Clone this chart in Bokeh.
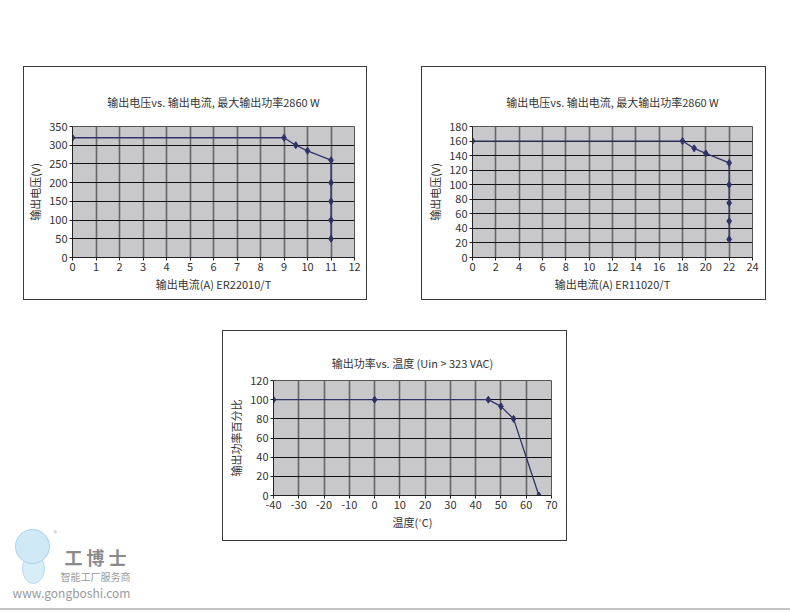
from bokeh.plotting import figure
from bokeh.models import Range1d, FixedTicker, Spacer, ColumnDataSource
from bokeh.layouts import row, column
from bokeh.embed import file_html
from bokeh.resources import INLINE
from bokeh.core.properties import value

FONT = "Noto Sans CJK SC"

# ---- data ----
c1_title = "输出电压vs. 输出电流, 最大输出功率2860 W"
c1_xlabel = "输出电流(A) ER22010/T"
c1_ylabel = "输出电压(V)"
c1_current = [0, 9, 9.5, 10, 11, 11, 11, 11, 11]
c1_voltage = [320, 320, 300, 285, 260, 200, 150, 100, 50]
c1_xticks = list(range(0, 13, 1))
c1_yticks = list(range(0, 351, 50))

c2_title = "输出电压vs. 输出电流, 最大输出功率2860 W"
c2_xlabel = "输出电流(A) ER11020/T"
c2_ylabel = "输出电压(V)"
c2_current = [0, 18, 19, 20, 22, 22, 22, 22, 22]
c2_voltage = [160, 160, 150, 143, 130, 100, 75, 50, 25]
c2_xticks = list(range(0, 25, 2))
c2_yticks = list(range(0, 181, 20))

c3_title = "输出功率vs. 温度 (Uin > 323 VAC)"
c3_xlabel = "温度(˚C)"
c3_ylabel = "输出功率百分比"
c3_temp = [-40, 0, 45, 50, 55, 65]
c3_power = [100, 100, 100, 93, 80, 0]
c3_xticks = list(range(-40, 71, 10))
c3_yticks = list(range(0, 121, 20))

LINE = "#2f3368"
BG = "#c8c8ca"
TXT = "#333333"


def make_chart(title, xs, ys, xticks, yticks, xlabel, ylabel, w, h,
               bl, br, bt, bb, standoff):
    p = figure(width=w, height=h, output_backend="svg", toolbar_location=None,
               x_range=Range1d(xticks[0], xticks[-1]),
               y_range=Range1d(yticks[0], yticks[-1]),
               min_border_left=bl, min_border_right=br,
               min_border_top=bt, min_border_bottom=bb,
               background_fill_color=BG, border_fill_color="white")
    p.styles = {"border": "1px solid #3a3a3a"}
    p.title.text = title
    p.title.text_font = FONT
    p.title.text_font_size = "11px"
    p.title.text_font_style = "normal"
    p.title.text_color = TXT
    p.title.align = "center"
    p.title.standoff = standoff
    p.outline_line_color = "#555555"
    p.xaxis.ticker = FixedTicker(ticks=xticks)
    p.yaxis.ticker = FixedTicker(ticks=yticks)
    p.xaxis.major_label_overrides = {t: str(t) for t in xticks}
    p.xgrid.ticker = FixedTicker(ticks=xticks)
    p.ygrid.ticker = FixedTicker(ticks=yticks)
    p.xgrid.grid_line_color = "#666666"
    p.xgrid.grid_line_width = 1.6
    p.ygrid.grid_line_color = "#111111"
    p.ygrid.grid_line_width = 1
    for ax in (p.xaxis[0], p.yaxis[0]):
        ax.axis_line_color = "#222222"
        ax.major_tick_out = 3
        ax.major_tick_in = 0
        ax.minor_tick_out = 0
        ax.minor_tick_in = 0
        ax.major_tick_line_color = "#222222"
        ax.major_label_text_font = FONT
        ax.major_label_text_font_size = "11px"
        ax.major_label_text_color = TXT
        ax.axis_label_text_font = FONT
        ax.axis_label_text_font_size = "11px"
        ax.axis_label_text_font_style = "normal"
        ax.axis_label_text_color = TXT
        ax.major_label_standoff = 2
    p.xaxis.axis_label = xlabel
    p.yaxis.axis_label = ylabel
    p.xaxis.axis_label_standoff = 2
    p.yaxis.axis_label_standoff = 3
    src = ColumnDataSource(dict(x=xs, y=ys))
    p.line("x", "y", source=src, line_color=LINE, line_width=1.3)
    p.scatter("x", "y", source=src, marker="diamond", size=7,
              fill_color=LINE, line_color=LINE)
    return p


f1 = make_chart(c1_title, c1_current, c1_voltage, c1_xticks, c1_yticks,
                c1_xlabel, c1_ylabel, 344, 234, 48, 14, 59, 44, 33)
f2 = make_chart(c2_title, c2_current, c2_voltage, c2_xticks, c2_yticks,
                c2_xlabel, c2_ylabel, 345, 234, 50, 15, 59, 44, 33)
f3 = make_chart(c3_title, c3_temp, c3_power, c3_xticks, c3_yticks,
                c3_xlabel, c3_ylabel, 345, 211, 50, 17, 49, 47, 19)

# watermark logo area (decoration)
logo = figure(width=222, height=308, output_backend="svg", toolbar_location=None,
              x_range=Range1d(0, 222), y_range=Range1d(610, 302),
              min_border=0, outline_line_color=None)
logo.axis.visible = False
logo.grid.visible = False
logo.ellipse(x=[33], y=[570], width=22, height=30, fill_color="#d7eef9",
             line_color="#b5dcef")
logo.circle(x=[32], y=[548], radius=17, fill_color="#cfe9f7", line_color="#a9d3ea")
logo.text(x=[95], y=[558], text=["工 博 士"], text_font=value(FONT),
          text_font_size="18px", text_font_style="bold", text_color="#8a8a8a",
          text_align="center", text_baseline="middle")
logo.text(x=[95], y=[578], text=["智能工厂服务商"], text_font=value(FONT),
          text_font_size="10px", text_color="#9a9a9a",
          text_align="center", text_baseline="middle")
logo.text(x=[71], y=[594], text=["www.gongboshi.com"], text_font=value(FONT),
          text_font_size="12px", text_color="#9a9a9a",
          text_align="center", text_baseline="middle")
logo.text(x=[55], y=[534], text=["®"], text_font=value(FONT),
          text_font_size="7px", text_color="#aaaaaa",
          text_align="center", text_baseline="middle")

layout = column(
    Spacer(width=10, height=66),
    row(Spacer(width=23, height=10), f1, Spacer(width=54, height=10), f2),
    row(logo, column(Spacer(width=10, height=30), f3)),
    Spacer(width=790, height=2, styles={"background-color": "#c4c4c4"}),
)

open("out.html", "w").write(file_html(layout, INLINE))
